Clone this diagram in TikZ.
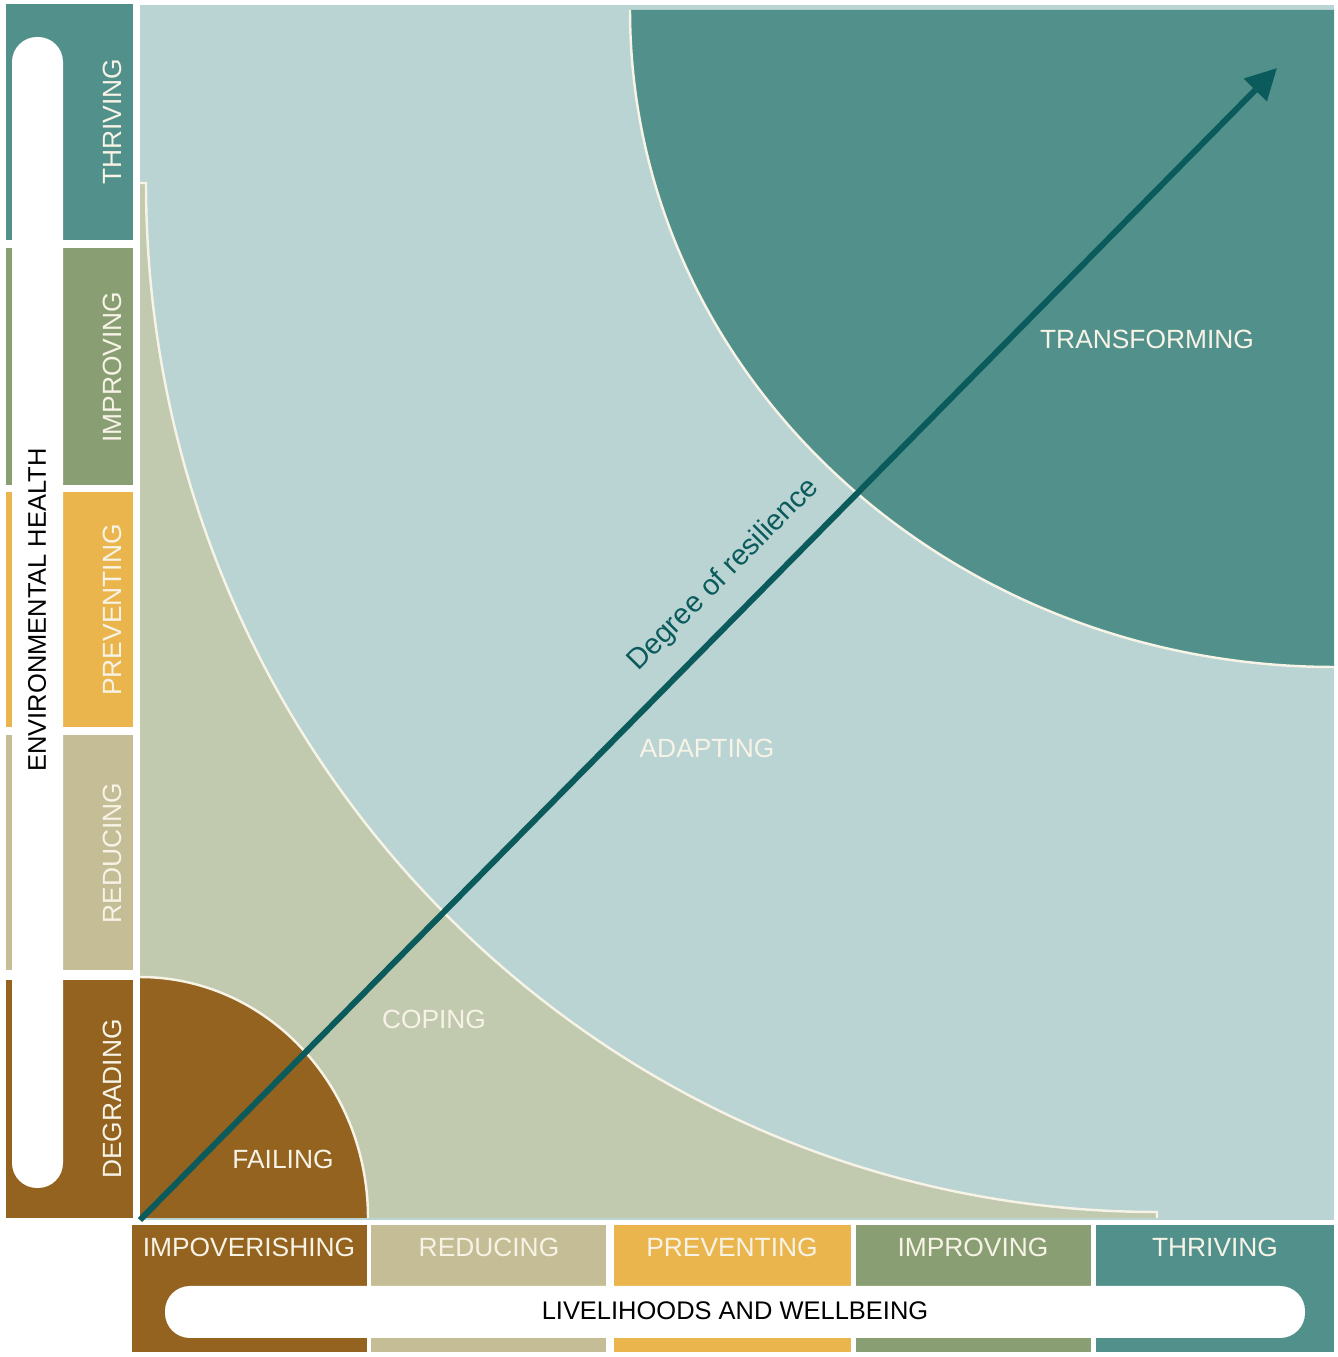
\documentclass[tikz,border=0pt]{standalone}
\usepackage{fontspec}
\setmainfont{Liberation Sans}
\usepackage{tikz}
\usetikzlibrary{arrows.meta}
\definecolor{cTeal}{HTML}{52918B}
\definecolor{cAdapt}{HTML}{BAD4D3}
\definecolor{cCope}{HTML}{C1C9AE}
\definecolor{cBrown}{HTML}{94631F}
\definecolor{cReduce}{HTML}{C5BD95}
\definecolor{cPrevent}{HTML}{EBB54E}
\definecolor{cImprove}{HTML}{8A9E74}
\definecolor{cArrow}{HTML}{0B5A5C}
\definecolor{cLabel}{HTML}{F7F3E6}
\tikzset{
  band/.style={fill=#1},
  pill/.style={fill=white, rounded corners=0.5cm},
  edge/.style={draw=cLabel, line width=1.4pt},
  lbl/.style={font=\fontsize{15}{18}\selectfont, text=cLabel, inner sep=0pt},
  vlbl/.style={lbl, rotate=90},
  axis/.style={font=\fontsize{14.5}{17}\selectfont, text=black, inner sep=0pt},
  arrow/.style={-{Triangle[length=0.62cm, width=0.62cm]}, line width=3.4pt, cArrow},
}
\begin{document}
\begin{tikzpicture}[x=0.02cm, y=0.02cm]
  \useasboundingbox (0,0) rectangle (1338,1357);

  % Resilience field
  \fill[cAdapt] (140,137) rectangle (1334,1352);
  \fill[cTeal] (630,1347) arc[start angle=180, end angle=270, x radius=704, y radius=657]
    -- (1334,1347) -- cycle;
  \draw[edge] (630,1347) arc[start angle=180, end angle=270, x radius=704, y radius=657];
  \fill[cCope] (140,1174) -- (146,1174)
    arc[start angle=180, end angle=270, x radius=1011, y radius=1029]
    -- (1157,139) -- (140,139) -- cycle;
  \draw[edge] (140,1174) -- (146,1174)
    arc[start angle=180, end angle=270, x radius=1011, y radius=1029] -- (1157,139);
  \fill[cBrown] (140,139) -- (368,139)
    arc[start angle=0, end angle=90, x radius=228, y radius=241] -- cycle;
  \draw[edge] (368,139) arc[start angle=0, end angle=90, x radius=228, y radius=241];

  % Environmental health scale
  \fill[band=cTeal]    (6,1117) rectangle (133,1353);
  \fill[band=cImprove] (6,872)  rectangle (133,1109);
  \fill[band=cPrevent] (6,630)  rectangle (133,865);
  \fill[band=cReduce]  (6,387)  rectangle (133,622);
  \fill[band=cBrown]   (6,139)  rectangle (133,377);
  \fill[pill] (12,169) rectangle (63,1320);

  % Livelihoods scale
  \fill[band=cBrown]   (132,5)  rectangle (367,132);
  \fill[band=cReduce]  (371,5)  rectangle (606,132);
  \fill[band=cPrevent] (614,5)  rectangle (851,132);
  \fill[band=cImprove] (856,5)  rectangle (1091,132);
  \fill[band=cTeal]    (1096,5) rectangle (1334,132);
  \fill[pill] (165,19) rectangle (1305,71);

  % Zone labels
  \node[lbl] (transf) at (1147,1018) {TRANSFORMING};
  \node[lbl] (adapt) at (707,609) {ADAPTING};
  \node[lbl] (cope) at (434,338) {COPING};
  \node[lbl] (fail) at (283,198) {FAILING};

  % Scale labels
  \node[vlbl] (ethr) at (112,1235) {THRIVING};
  \node[vlbl] (eimp) at (112,990) {IMPROVING};
  \node[vlbl] (epre) at (112,747) {PREVENTING};
  \node[vlbl] (ered) at (112,504) {REDUCING};
  \node[vlbl] (edeg) at (112,258) {DEGRADING};
  \node[axis, rotate=90] (env) at (37,747) {ENVIRONMENTAL HEALTH};

  \node[lbl] (limp) at (249,110) {IMPOVERISHING};
  \node[lbl] (lred) at (489,110) {REDUCING};
  \node[lbl] (lpre) at (732,110) {PREVENTING};
  \node[lbl] (limr) at (973,110) {IMPROVING};
  \node[lbl] (lthr) at (1215,110) {THRIVING};
  \node[axis] (live) at (735,46) {LIVELIHOODS AND WELLBEING};

  % Arrow
  \coordinate (orig) at (140,137);
  \coordinate (tip) at (1277,1289);
  \draw[arrow] (orig) -- (tip)
    node[pos=0.537, sloped, above=12pt, inner sep=0pt, text=cArrow,
         font=\fontsize{16.5}{19}\selectfont] (deg) {Degree of resilience};

\end{tikzpicture}
\end{document}
